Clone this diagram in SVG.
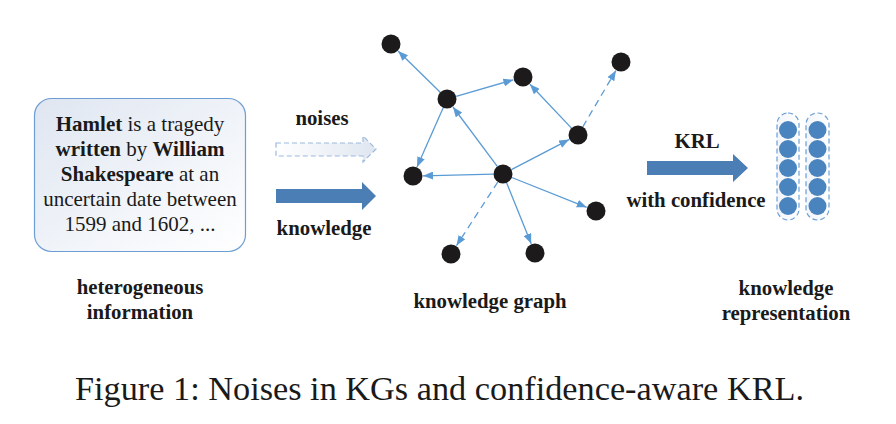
<svg xmlns="http://www.w3.org/2000/svg" width="896" height="424" viewBox="0 0 896 424">
<style>
.t{font-family:"Liberation Serif","Times New Roman",serif;fill:#1a1a1a}
.b{font-weight:bold}
.lbl{font-family:"Liberation Serif","Times New Roman",serif;font-weight:bold;font-size:20.8px;fill:#1a1a1a;text-anchor:middle}
.node{fill:#1c1a1a}
.edge{stroke:#5b9bd5;stroke-width:1.3;fill:none;marker-end:url(#ah)}
.dash{stroke-dasharray:7,5}
.vec{fill:#4a84bf}
.cap{fill:url(#capg);stroke:#6a9fd6;stroke-width:1.2;stroke-dasharray:5,3}
.big{fill:#4a7eb4}
</style>
<defs>
<marker id="ah" markerUnits="userSpaceOnUse" markerWidth="10" markerHeight="8" refX="10" refY="4" orient="auto">
<path d="M0,0 L10,4 L0,8 z" fill="#5b9bd5"/>
</marker>
<linearGradient id="boxg" x1="0" y1="0" x2="1" y2="1">
<stop offset="0" stop-color="#dfe6f1"/>
<stop offset="1" stop-color="#ffffff"/>
</linearGradient>
<linearGradient id="noiseg" x1="0" y1="0" x2="1" y2="0">
<stop offset="0" stop-color="#ffffff"/>
<stop offset="1" stop-color="#dfe6f0"/>
</linearGradient>
<linearGradient id="capg" x1="0" y1="0" x2="1" y2="0">
<stop offset="0" stop-color="#f2f5fa"/>
<stop offset="1" stop-color="#ffffff"/>
</linearGradient>
</defs>

<g id="info-box">
<rect x="34.5" y="98.5" width="211" height="153" rx="17" fill="url(#boxg)" stroke="#6d9ed3" stroke-width="1.2"/>
<text class="t" font-size="21" text-anchor="middle" x="140" y="131"><tspan class="b">Hamlet</tspan> is a tragedy</text>
<text class="t" font-size="21" text-anchor="middle" x="140" y="156"><tspan class="b">written</tspan> by <tspan class="b">William</tspan></text>
<text class="t" font-size="21" text-anchor="middle" x="140" y="181"><tspan class="b">Shakespeare</tspan> at an</text>
<text class="t" font-size="21" text-anchor="middle" x="140" y="206">uncertain date between</text>
<text class="t" font-size="21" text-anchor="middle" x="140" y="231">1599 and 1602, ...</text>
</g>
<g id="info-label">
<text class="lbl" x="140" y="294">heterogeneous</text>
<text class="lbl" x="140" y="319">information</text>
</g>

<g id="noises-arrow">
<polygon points="276,143 363,143 363,136 376,149 363,162 363,156 276,156" fill="url(#noiseg)" stroke="#9bb9de" stroke-width="1.2" stroke-dasharray="5,3"/>
<text class="lbl" x="322" y="125">noises</text>
</g>
<g id="knowledge-arrow">
<polygon class="big" points="276,189 362,189 362,182 376,196 362,210 362,203 276,203"/>
<text class="lbl" x="324" y="235">knowledge</text>
</g>

<g id="connectors">
<line class="edge" x1="440.2" y1="92.3" x2="398.1" y2="51.0"/>
<line class="edge" x1="456.1" y1="96.4" x2="513.4" y2="79.8"/>
<line class="edge" x1="443.2" y1="107.7" x2="417.0" y2="166.9"/>
<line class="edge" x1="497.3" y1="166.4" x2="453.0" y2="107.0"/>
<line class="edge" x1="493.5" y1="174.2" x2="423.0" y2="175.8"/>
<line class="edge" x1="511.4" y1="169.6" x2="569.1" y2="139.6"/>
<line class="edge" x1="571.5" y1="128.1" x2="529.9" y2="84.3"/>
<line class="edge dash" x1="582.8" y1="126.8" x2="615.9" y2="70.6"/>
<line class="edge" x1="511.8" y1="177.5" x2="586.7" y2="207.3"/>
<line class="edge" x1="506.6" y1="182.8" x2="531.2" y2="243.7"/>
<line class="edge dash" x1="497.8" y1="182.0" x2="456.5" y2="245.6"/>
</g>

<g id="n1"><circle class="node" cx="391" cy="44" r="9.5"/></g>
<g id="n2"><circle class="node" cx="447" cy="99" r="9.5"/></g>
<g id="n3"><circle class="node" cx="523" cy="77" r="9.5"/></g>
<g id="n4"><circle class="node" cx="621" cy="62" r="9.5"/></g>
<g id="n5"><circle class="node" cx="578" cy="135" r="9.5"/></g>
<g id="n6"><circle class="node" cx="413" cy="176" r="9.5"/></g>
<g id="n7"><circle class="node" cx="503" cy="174" r="9.5"/></g>
<g id="n8"><circle class="node" cx="596" cy="211" r="9.5"/></g>
<g id="n9"><circle class="node" cx="451" cy="254" r="9.5"/></g>
<g id="n10"><circle class="node" cx="535" cy="253" r="9.5"/></g>
<g id="graph-label"><text class="lbl" x="490" y="308">knowledge graph</text></g>

<g id="krl-arrow">
<polygon class="big" points="647,161 733,161 733,154 748,168 733,182 733,175 647,175"/>
<text class="lbl" x="697" y="148">KRL</text>
<text class="lbl" x="696" y="207">with confidence</text>
</g>

<g id="vector1">
<rect class="cap" x="777" y="113" width="22" height="107" rx="11"/>
<circle class="vec" cx="788" cy="130" r="9"/>
<circle class="vec" cx="788" cy="149" r="9"/>
<circle class="vec" cx="788" cy="168" r="9"/>
<circle class="vec" cx="788" cy="187" r="9"/>
<circle class="vec" cx="788" cy="206" r="9"/>
</g>
<g id="vector2">
<rect class="cap" x="806" y="113" width="23" height="107" rx="11.5"/>
<circle class="vec" cx="817.5" cy="130" r="9"/>
<circle class="vec" cx="817.5" cy="149" r="9"/>
<circle class="vec" cx="817.5" cy="168" r="9"/>
<circle class="vec" cx="817.5" cy="187" r="9"/>
<circle class="vec" cx="817.5" cy="206" r="9"/>
</g>
<g id="repr-label">
<text class="lbl" x="786" y="295">knowledge</text>
<text class="lbl" x="786" y="320">representation</text>
</g>

<text class="t" font-size="33" x="75" y="400" textLength="729" lengthAdjust="spacingAndGlyphs">Figure 1: Noises in KGs and confidence-aware KRL.</text>
</svg>
